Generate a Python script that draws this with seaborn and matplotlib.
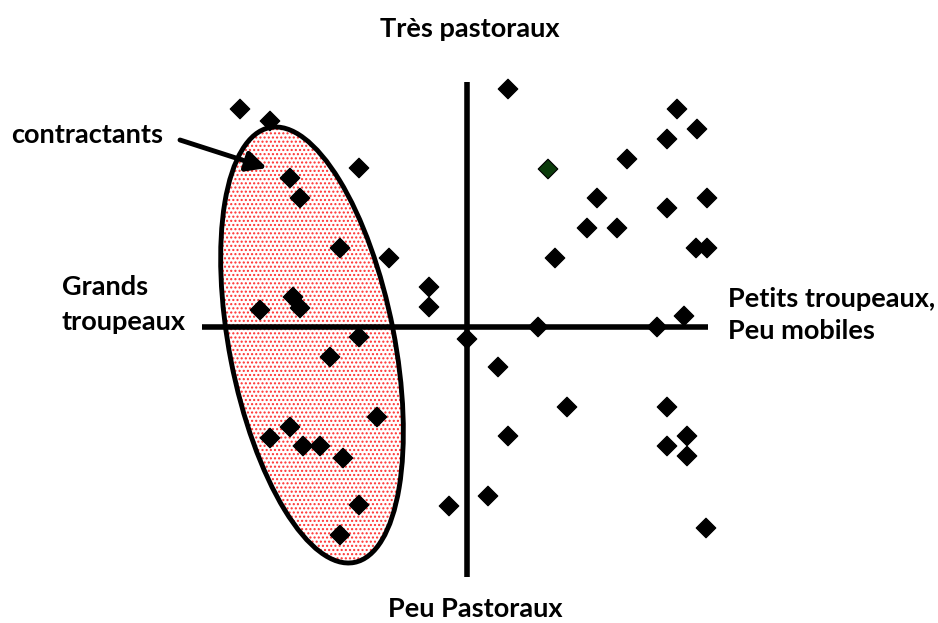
import matplotlib
matplotlib.use("Agg")
import matplotlib.pyplot as plt
from matplotlib.patches import Ellipse
import seaborn as sns
import pandas as pd

# Point coordinates (axis units; origin at axes crossing)
x_vals = [-22.7, -19.7, -10.8, -17.7, -16.7, -12.7, -7.8, -3.8, -3.8, -17.4, -16.7, -20.7,
          -10.8, -13.7, -9.0, -17.7, -19.7, -16.4, -14.7, -12.4, -10.8, -12.7, -1.8, 2.1, 0.0,
          4.1, 21.0, 23.0, 20.0, 16.0, 8.1, 13.0, 20.0, 24.0, 12.0, 15.0, 8.8, 22.9, 24.0, 21.7,
          7.1, 19.0, 3.1, 10.0, 20.0, 4.1, 22.0, 20.0, 22.0, 23.9]
y_vals = [21.8, 20.6, 15.9, 14.9, 12.9, 7.9, 6.9, 4.0, 2.0, 3.0, 1.9, 1.7,
          -1.0, -3.0, -9.0, -10.0, -11.1, -11.9, -11.9, -13.1, -17.8, -20.8, -17.9, -16.9, -1.2,
          23.8, 21.8, 19.8, 18.8, 16.8, 15.8, 12.9, 11.9, 12.9, 9.9, 9.9, 6.9, 7.9, 7.9, 1.1,
          0.0, 0.0, -4.0, -8.0, -8.0, -10.9, -10.9, -11.9, -12.9, -20.1]
groupe = ["autre"] * 50
groupe[30] = "vert"

df = pd.DataFrame({"x": x_vals, "y": y_vals, "groupe": groupe})

sns.set_theme(style="white")
plt.rcParams["font.family"] = ["Lato", "DejaVu Sans"]
plt.rcParams["hatch.linewidth"] = 1.0

fig = plt.figure(figsize=(9.38, 6.23), dpi=100)
ax = fig.add_axes([0, 0, 1, 1])
ax.set_xlim(-46.7, 47.1)
ax.set_ylim(-29.6, 32.7)
ax.axis("off")

# Ellipse (contractants)
ell_fill = Ellipse((-15.5, -1.8), 16.5, 44.3, angle=11, facecolor="white",
                   edgecolor="#ff3030", linewidth=0, hatch="....", zorder=1)
ax.add_patch(ell_fill)
ell_edge = Ellipse((-15.5, -1.8), 16.5, 44.3, angle=11, fill=False,
                   edgecolor="black", linewidth=3.5, zorder=2)
ax.add_patch(ell_edge)

# Axes cross
ax.plot([0, 0], [24.5, -25.0], color="black", lw=4, zorder=2, solid_capstyle="butt")
ax.plot([-26.5, 24.1], [0, 0], color="black", lw=4, zorder=2, solid_capstyle="butt")

sns.scatterplot(data=df, x="x", y="y", hue="groupe",
                palette={"autre": "black", "vert": "#0b3b0b"},
                marker="D", s=100, edgecolor="black", linewidth=0.8,
                legend=False, ax=ax, zorder=3)

# Arrow
ax.annotate("", xy=(-20.0, 15.9), xytext=(-28.7, 18.7),
            arrowprops=dict(arrowstyle="-|>", lw=3.5, color="black", mutation_scale=30,
                            shrinkA=0, shrinkB=0), zorder=4)

fs = 19.5
kw = dict(fontsize=fs, fontweight="bold", color="black")
ax.text(0.3, 29.0, "Très pastoraux", ha="center", va="baseline", **kw)
ax.text(0.8, -29.0, "Peu Pastoraux", ha="center", va="baseline", **kw)
ax.text(-40.5, 3.2, "Grands", ha="left", va="baseline", **kw)
ax.text(-40.5, -0.3, "troupeaux", ha="left", va="baseline", **kw)
ax.text(26.1, 2.0, "Petits troupeaux,", ha="left", va="baseline", **kw)
ax.text(26.1, -1.2, "Peu mobiles", ha="left", va="baseline", **kw)
ax.text(-45.6, 18.4, "contractants", ha="left", va="baseline", **kw)

fig.savefig("out.png", dpi=100)
